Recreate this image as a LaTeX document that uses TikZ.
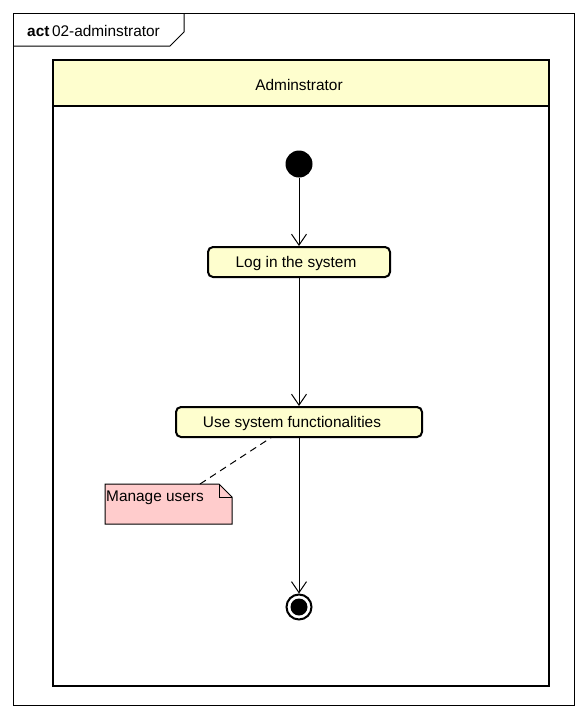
\documentclass[tikz,border=0pt]{standalone}
\usepackage{fontspec}
\setmainfont{Liberation Sans}
\usetikzlibrary{arrows.meta}
\definecolor{actfill}{RGB}{254,254,206}
\definecolor{notefill}{RGB}{255,204,204}
\begin{document}
\begin{tikzpicture}[x=1pt,y=-1pt,
  lbl/.style={font=\fontsize{15.4}{17}\selectfont, inner sep=0pt},
  action/.style={draw, line width=2pt, rounded corners=5pt, fill=actfill, inner sep=0pt},
  flow/.style={line width=1pt, -{Straight Barb[length=11pt,width=15pt,line width=1pt]}},
  notebox/.style={draw, line width=1pt, fill=notefill}]
\useasboundingbox (0,0) rectangle (588,718);
\fill[white] (0,0) rectangle (588,718);

% diagram frame with its name tab
\draw[line width=1pt] (13,13) rectangle (574,705);
\draw[line width=1pt] (184,13) -- (184,32) -- (170,46) -- (13,46);
\node[lbl, anchor=west] (title) at (27,31) {\textbf{act}\,02-adminstrator};

% swimlane
\draw[line width=2pt] (53,60) rectangle (549,686);
\draw[line width=2pt, fill=actfill] (53,60) rectangle (549,106);
\node[lbl] (lane) at (299,85) {Adminstrator};

% initial node
\node[circle, fill, inner sep=0pt, minimum size=27pt] (init) at (299,164) {};

% actions
\node[action, minimum width=182pt, minimum height=30pt] (login) at (299,262) {};
\node[lbl] at (296,263.5) {Log in the system};

\node[action, minimum width=246pt, minimum height=30pt] (use) at (299,422) {};
\node[lbl] at (292,423.5) {Use system functionalities};

% final node
\node[circle, draw, line width=2pt, fill=white, inner sep=0pt, minimum size=25pt] (final) at (299,607) {};
\fill (final.center) circle (8.5);

% flows
\draw[flow] (init) -- (login);
\draw[flow] (login) -- (use);
\draw[flow] (use) -- (final);

% note
\draw[notebox] (105,484) -- (219,484) -- (232,497) -- (232,524) -- (105,524) -- cycle;
\draw[line width=1pt] (219,484) -- (219,497) -- (232,497);
\node[lbl, anchor=west] (note) at (106,497.5) {Manage users};
\coordinate (noteT) at (200,484);
\coordinate (useN) at (272,437);
\draw[line width=1pt, dash pattern=on 7pt off 5pt] (noteT) -- (useN);
\end{tikzpicture}
\end{document}
